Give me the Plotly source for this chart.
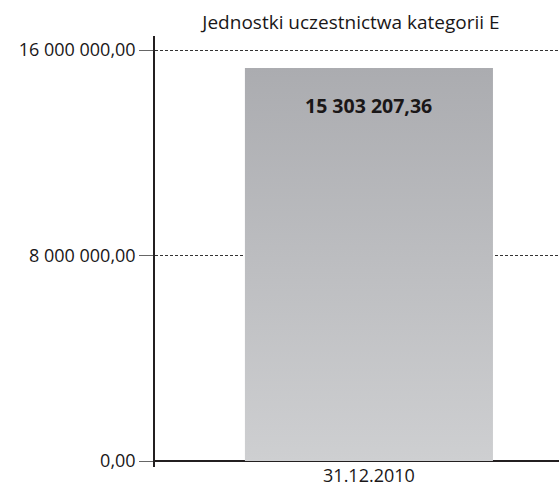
import plotly.graph_objects as go

title_text = "Jednostki uczestnictwa kategorii E"
categories = ["31.12.2010"]
values = [15303207.36]
value_labels = ["15 303 207,36"]
y_tick_vals = [0, 8000000, 16000000]
y_tick_text = ["0,00", "8 000 000,00", "16 000 000,00"]

FONT = "Open Sans"
TXT = "#1a1718"
bar_w = 0.8
xpos = list(range(len(categories)))

W, H = 559, 486

fig = go.Figure()

# gradient-filled bar bodies (built from the data values)
for i, v in zip(xpos, values):
    fig.add_trace(go.Scatter(
        x=[i - bar_w / 2, i + bar_w / 2, i + bar_w / 2, i - bar_w / 2, i - bar_w / 2],
        y=[0, 0, v, v, 0],
        mode="lines", line=dict(width=0), fill="toself",
        fillgradient=dict(type="vertical",
                          colorscale=[[0, "#cecfd1"], [1, "#abacb0"]]),
        hoverinfo="skip", showlegend=False,
    ))

fig.add_trace(go.Bar(
    x=xpos, y=values, width=bar_w,
    marker=dict(color="rgba(0,0,0,0)", line=dict(width=0)),
    showlegend=False,
))

for i, v, t in zip(xpos, values, value_labels):
    fig.add_annotation(x=i, y=v, text="<b>" + t + "</b>", showarrow=False,
                       yanchor="middle", yshift=-38,
                       font=dict(family=FONT, size=19.5, color=TXT))

fig.update_layout(
    width=W, height=H,
    margin=dict(l=155, r=0, t=36, b=19, autoexpand=False),
    paper_bgcolor="white", plot_bgcolor="white",
    title=dict(text=title_text, x=351 / W, xref="container", xanchor="center",
               y=1 - 22 / H, yref="container", yanchor="middle",
               automargin=False,
               font=dict(family=FONT, size=19, color=TXT)),
    font=dict(family=FONT, color=TXT),
)

fig.update_xaxes(
    range=[-0.69, 0.613], tickvals=xpos, ticktext=categories,
    showgrid=False, zeroline=False, showline=False, ticks="",
    automargin=False, ticklabelstandoff=-4,
    tickfont=dict(family=FONT, size=18, color=TXT),
)
fig.update_yaxes(
    range=[-233600, 16545000], tickvals=y_tick_vals, ticktext=y_tick_text,
    showgrid=True, gridcolor="#333333", gridwidth=1, griddash="3px,2px",
    zeroline=True, zerolinecolor="#231f20", zerolinewidth=1.5,
    showline=True, linecolor="#231f20", linewidth=1.5,
    ticks="outside", ticklen=14, tickcolor="#666666", tickwidth=1,
    automargin=False,
    tickfont=dict(family=FONT, size=18, color=TXT),
)

fig.write_html(
    "out.html",
    config={"displayModeBar": False},
    post_script="document.body.style.margin='0';document.body.style.overflow='hidden';",
)
